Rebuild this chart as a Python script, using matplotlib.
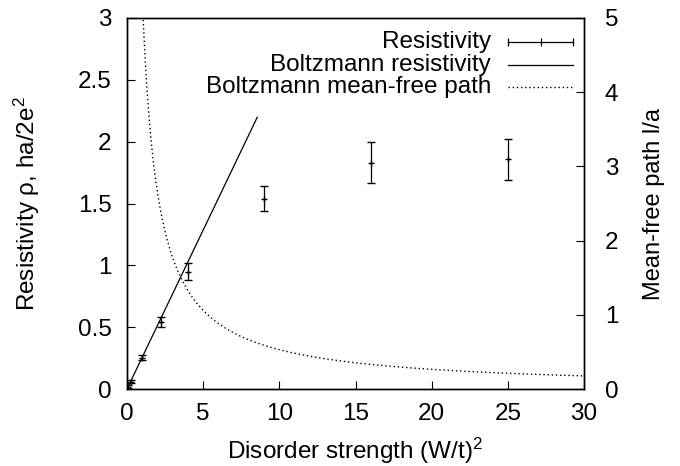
import matplotlib
matplotlib.use("Agg")
import matplotlib.pyplot as plt
from matplotlib.lines import Line2D
import numpy as np

plt.rcParams['font.family'] = ['Liberation Sans', 'DejaVu Sans']
plt.rcParams['font.size'] = 17.5
plt.rcParams['mathtext.fontset'] = 'custom'
plt.rcParams['mathtext.rm'] = 'Liberation Sans'
plt.rcParams['mathtext.it'] = 'Liberation Sans'

# Data
disorder = [0.0625, 0.25, 1.0, 2.25, 4.0, 9.0, 16.0, 25.0]
resistivity = [0.02, 0.06, 0.253, 0.545, 0.95, 1.54, 1.83, 1.857]
resistivity_err = [0.01, 0.015, 0.02, 0.04, 0.07, 0.1, 0.165, 0.167]

boltz_slope = 0.257
boltz_xmax = 8.55
mfp_const = 5.3

FS = 17.5

fig = plt.figure(figsize=(6.8, 4.66), dpi=100)
ax = fig.add_axes([127/680, 77/466, (584-127)/680, (389-18)/466])
ax2 = ax.twinx()

ax.errorbar(disorder, resistivity, yerr=resistivity_err, fmt='+', color='black',
            ms=5, mew=1.0, elinewidth=0.9, capsize=3, capthick=0.9, ecolor='black')

xb = np.linspace(0, boltz_xmax, 50)
ax.plot(xb, boltz_slope * xb, color='black', lw=0.9)

xm = np.linspace(0.5, 30, 600)
ax2.plot(xm, mfp_const / xm, color='black', lw=1.0, ls=(0, (1, 2)))

ax.set_xlim(0, 30)
ax.set_ylim(0, 3)
ax2.set_ylim(0, 5)
ax.set_xticks([0, 5, 10, 15, 20, 25, 30])
ax.set_yticks([0, 0.5, 1, 1.5, 2, 2.5, 3])
ax.set_yticklabels(['0', '0.5', '1', '1.5', '2', '2.5', '3'])
ax2.set_yticks([0, 1, 2, 3, 4, 5])

ax.tick_params(axis='y', direction='in', length=6, width=0.8, pad=11, labelsize=FS)
ax.tick_params(axis='x', direction='in', length=6, width=0.8, pad=10, labelsize=FS)
ax2.tick_params(direction='in', length=6, width=0.8, pad=15, labelsize=FS)
for a in (ax, ax2):
    for s in a.spines.values():
        s.set_linewidth(1.0)

ax.set_xlabel('Disorder strength (W/t)$^2$', fontsize=FS, labelpad=8)
ax.set_ylabel('Resistivity ρ, ha/2e$^2$', fontsize=FS, labelpad=26)
ax2.set_ylabel('Mean-free path l/a', fontsize=17, labelpad=18)

# gnuplot-style legend: right-aligned text, sample after
labels = ['Resistivity', 'Boltzmann resistivity', 'Boltzmann mean-free path']
ys = [1 - (42-18)/371, 1 - (65-18)/371, 1 - (87-18)/371]
tx = (491-127)/457
lx0 = (508-127)/457
lx1 = (573-127)/457
for lab, yy in zip(labels, ys):
    ax.text(tx, yy, lab, transform=ax.transAxes, ha='right', va='center', fontsize=FS)
ax.add_line(Line2D([lx0, lx1], [ys[0], ys[0]], transform=ax.transAxes, color='black', lw=0.9))
for xx in (lx0, lx1):
    ax.add_line(Line2D([xx], [ys[0]], transform=ax.transAxes, marker='|', ms=6, color='black', mew=0.9))
ax.add_line(Line2D([(lx0+lx1)/2], [ys[0]], transform=ax.transAxes, marker='|', ms=6, color='black', mew=0.9))
ax.add_line(Line2D([lx0, lx1], [ys[1], ys[1]], transform=ax.transAxes, color='black', lw=0.9))
ax.add_line(Line2D([lx0, lx1], [ys[2], ys[2]], transform=ax.transAxes, color='black', lw=1.0, ls=(0, (1, 2))))

fig.savefig('out.png', dpi=100)
